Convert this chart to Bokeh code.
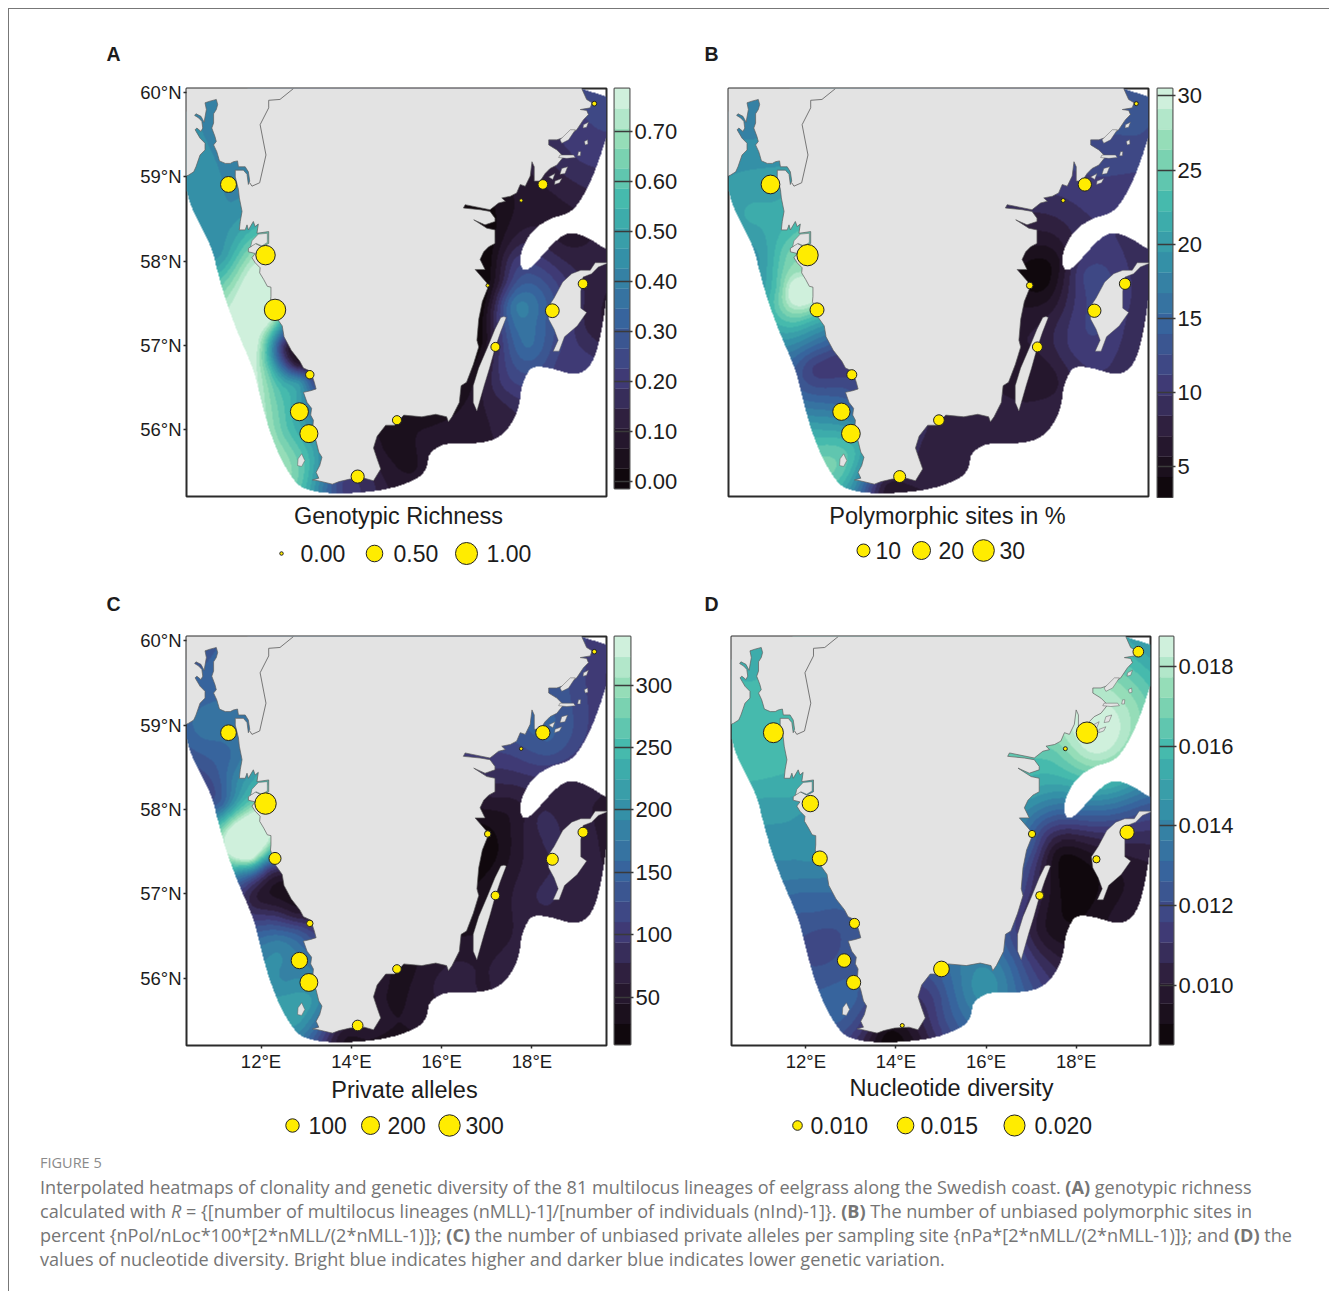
import numpy as np
from bokeh.core.properties import value
from bokeh.embed import file_html
from bokeh.layouts import column, row
from bokeh.models import (Div, FixedTicker, LinearAxis, LinearColorMapper, Range1d)
from bokeh.plotting import figure
from bokeh.resources import INLINE

FONT = "Liberation Sans"
INK = "#2b2b2b"

# ---------- map outlines, degrees ----------
coast_lon = [10.20, 10.34, 10.39, 10.51, 10.56, 10.65, 10.76, 10.76, 10.65, 10.54, 10.58, 10.67, 10.71, 10.69, 10.62, 10.53, 10.56, 10.67, 10.74, 10.79, 10.76, 10.87, 11.01, 11.04, 11.01, 10.95, 10.95, 10.91, 10.98, 11.01, 10.95, 11.02, 11.08, 11.21, 11.32, 11.39, 11.48, 11.50, 11.65, 11.72, 11.75, 11.72, 11.69, 11.61, 11.43, 11.43, 11.50, 11.52, 11.58, 11.54, 11.52, 11.65, 11.69, 11.72, 11.83, 11.87, 11.94, 11.91, 12.17, 12.17, 12.02, 11.87, 11.72, 11.72, 11.87, 11.80, 11.87, 11.98, 11.97, 12.06, 12.14, 12.22, 12.22,
             12.21, 12.31, 12.47, 12.51, 12.67, 12.86, 12.94, 13.10, 13.18, 13.22, 13.10, 12.94, 13.02, 13.12, 13.10, 13.16, 13.14, 13.22, 13.28, 13.35, 13.30, 13.22, 13.28, 13.14, 13.26, 13.58, 13.73, 13.97, 14.29, 14.49, 14.65, 14.57, 14.49, 14.57, 14.76, 14.96, 15.16, 15.56, 15.87, 16.11, 16.15, 16.23, 16.39, 16.43, 16.55, 16.70, 16.82, 16.78, 16.82, 16.90, 17.02,
             17.00, 16.74, 16.96, 16.85, 16.93, 17.04, 17.18, 17.18, 17.00, 16.71, 16.96, 17.18, 17.18, 17.07, 16.85, 16.48, 16.52, 17.07, 17.26, 17.41, 17.33, 17.52, 17.66, 17.74, 17.85, 17.96, 18.00, 18.05, 18.05, 18.18, 18.29, 18.40, 18.55, 18.70, 18.55, 18.37, 18.37, 18.55, 18.77, 18.99, 19.14, 19.25, 19.21, 19.07, 19.29, 19.33, 19.21, 19.10, 19.05, 10.20]
coast_lat = [59.01, 59.01, 59.02, 59.06, 59.12, 59.26, 59.32, 59.40, 59.46, 59.56, 59.58, 59.54, 59.58, 59.66, 59.70, 59.73, 59.75, 59.72, 59.65, 59.80, 59.88, 59.90, 59.92, 59.86, 59.80, 59.75, 59.64, 59.58, 59.48, 59.42, 59.38, 59.30, 59.19, 59.16, 59.16, 59.18, 59.19, 59.12, 59.12, 59.06, 58.95, 58.91, 59.03, 59.08, 59.08, 59.00, 58.85, 58.75, 58.59, 58.47, 58.37, 58.37, 58.43, 58.37, 58.47, 58.41, 58.44, 58.33, 58.35, 58.21, 58.17, 58.21, 58.15, 58.11, 58.09, 58.04, 57.98, 57.92, 57.86, 57.78, 57.70, 57.69, 57.58,
             57.52, 57.35, 57.23, 57.10, 56.94, 56.81, 56.73, 56.69, 56.56, 56.48, 56.46, 56.44, 56.32, 56.25, 56.17, 56.11, 55.98, 55.86, 55.73, 55.67, 55.57, 55.49, 55.42, 55.40, 55.39, 55.35, 55.38, 55.41, 55.42, 55.39, 55.53, 55.65, 55.78, 55.92, 56.05, 56.05, 56.17, 56.15, 56.18, 56.15, 56.09, 56.15, 56.32, 56.52, 56.56, 56.77, 56.98, 57.06, 57.31, 57.52, 57.68,
             57.74, 57.90, 57.90, 58.02, 58.11, 58.17, 58.21, 58.37, 58.39, 58.49, 58.43, 58.47, 58.51, 58.59, 58.61, 58.63, 58.67, 58.61, 58.69, 58.71, 58.75, 58.77, 58.81, 58.91, 58.89, 59.01, 59.18, 59.12, 58.95, 58.95, 59.04, 59.10, 59.14, 59.24, 59.32, 59.38, 59.44, 59.44, 59.48, 59.56, 59.68, 59.74, 59.79, 59.80, 59.82, 59.88, 59.92, 60.05, 60.15, 60.15]

border_lon = [12.72, 12.42, 12.17, 12.17, 11.98, 12.11, 11.97, 11.80, 11.75]
border_lat = [60.05, 59.92, 59.91, 59.82, 59.62, 59.26, 58.93, 58.89, 58.93]

island_lons = [
    [17.38, 17.43, 17.30, 17.18, 17.06, 16.94, 16.78, 16.70, 16.70, 16.82, 17.02, 17.18, 17.31],
    [19.70, 19.40, 19.29, 19.08, 18.88, 18.68, 18.49, 18.34, 18.37, 18.49, 18.58, 18.47, 18.60, 18.72, 19.00, 19.21, 19.08, 19.08, 19.13, 19.32, 19.47],
    [12.90, 12.97, 12.90, 12.81, 12.82],
    [18.62, 18.92, 18.96, 18.77, 18.59], [19.03, 19.08, 19.07, 19.01], [19.16, 19.23, 19.24, 19.18],
    [19.14, 19.25, 19.21, 19.13], [18.66, 18.79, 18.73, 18.62], [18.51, 18.66, 18.61, 18.50],
    [18.37, 18.51, 18.46], [18.85, 18.96, 18.81, 18.66, 18.62],
    [11.77, 11.89, 12.02, 12.14, 12.14, 11.94, 11.80],
]
island_lats = [
    [57.34, 57.33, 57.15, 56.96, 56.73, 56.52, 56.22, 56.32, 56.52, 56.73, 56.98, 57.19, 57.33],
    [57.98, 57.98, 57.89, 57.89, 57.85, 57.75, 57.56, 57.44, 57.31, 57.19, 57.06, 56.93, 56.93, 57.10, 57.23, 57.39, 57.44, 57.64, 57.81, 57.85, 57.93],
    [55.71, 55.63, 55.56, 55.57, 55.65],
    [59.26, 59.26, 59.23, 59.22, 59.23], [59.30, 59.30, 59.25, 59.25], [59.42, 59.44, 59.39, 59.38],
    [59.62, 59.65, 59.59, 59.58], [59.10, 59.12, 59.04, 59.03], [58.95, 58.98, 58.93, 58.91],
    [59.00, 59.04, 58.97], [59.56, 59.56, 59.44, 59.40, 59.44],
    [58.17, 58.21, 58.18, 58.22, 58.33, 58.32, 58.24],
]

sea_lon = [10.20, 10.33, 10.45, 10.73, 10.92, 11.03, 11.20, 11.48, 11.79, 11.91, 12.11, 12.39, 12.78, 13.10, 13.50, 13.97, 14.61, 15.16, 15.60, 15.70, 15.70, 15.91, 16.23, 16.82, 17.30, 17.61, 17.73, 17.77, 17.93, 18.09, 18.41, 18.96, 19.28, 19.47, 19.61, 19.70, 19.70, 19.63, 19.28, 18.92, 18.68, 18.41, 18.01, 17.81, 17.73, 17.77, 18.01, 18.41, 18.80, 19.04, 19.36, 19.63, 19.70, 19.70, 10.20]
sea_lat = [59.01, 58.89, 58.64, 58.35, 58.14, 57.89, 57.56, 57.15, 56.77, 56.56, 56.11, 55.69, 55.34, 55.27, 55.24, 55.24, 55.27, 55.34, 55.46, 55.61, 55.69, 55.80, 55.84, 55.83, 55.90, 56.11, 56.32, 56.52, 56.71, 56.75, 56.73, 56.64, 56.73, 56.98, 57.39, 57.81, 58.14, 58.14, 58.27, 58.34, 58.31, 58.18, 57.93, 57.88, 57.98, 58.14, 58.37, 58.51, 58.56, 58.68, 59.01, 59.43, 59.60, 60.15, 60.15]

# ---------- sampling sites ----------
site_lon = [11.28, 12.10, 12.31, 13.08, 12.85, 13.06, 14.14, 15.01, 17.19, 17.02, 17.76, 18.24, 19.38, 19.13, 18.45]
site_lat = [58.91, 58.07, 57.42, 56.65, 56.21, 55.95, 55.44, 56.11, 56.98, 57.71, 58.72, 58.91, 59.87, 57.73, 57.41]
richness = [0.45, 0.74, 0.94, 0.07, 0.62, 0.62, 0.27, 0.09, 0.09, 0.00, 0.00, 0.11, 0.005, 0.11, 0.31]
polymorphic = [21.7, 28.9, 11.6, 6.1, 18.3, 21.7, 8.5, 6.9, 6.1, 3.6, 3.0, 10.5, 3.0, 7.6, 10.5]
private_alleles = [145, 299, 77, 20, 161, 197, 58, 35, 35, 20, 12, 116, 13, 50, 77]
nucleotide = [0.0186, 0.0147, 0.0134, 0.0102, 0.0123, 0.0128, 0.0088, 0.0140, 0.0094, 0.0092, 0.0088, 0.0204, 0.0105, 0.0128, 0.0092]

# ---------- heat-map readings: value of each panel read at these sea locations ----------
field_lon = [10.88, 10.73, 11.36, 10.81, 11.44, 11.12, 11.76, 11.44, 11.91, 11.60, 12.15, 11.91, 12.47, 12.78, 12.23, 12.86, 12.39, 13.10, 12.55, 13.18, 12.86,
             13.34, 13.81, 14.29, 14.92, 14.76, 15.40, 15.95, 16.43, 16.82, 17.38,
             16.98, 17.38, 16.90, 17.93, 16.98, 17.61, 17.14, 17.61, 17.53, 18.41, 19.04, 19.44, 19.36,
             18.72, 19.44, 18.17, 19.36, 18.72, 19.04, 18.17, 11.75, 12.00, 17.30]
field_lat = [59.47, 58.93, 58.64, 58.51, 58.31, 58.06, 58.06, 57.68, 57.64, 57.31, 57.31, 56.98, 56.98, 56.77, 56.73, 56.56, 56.40, 56.40, 55.98, 55.73, 55.49,
             55.32, 55.32, 55.34, 55.44, 55.78, 56.02, 55.90, 56.11, 55.98, 56.23,
             56.56, 56.56, 57.06, 56.98, 57.56, 57.48, 58.22, 57.98, 58.64, 58.76, 59.14, 59.47, 59.97,
             58.22, 58.02, 57.85, 57.27, 56.77, 56.73, 57.27, 57.45, 57.90, 57.75]
field_a = [0.42, 0.45, 0.43, 0.45, 0.50, 0.47, 0.68, 0.72, 0.85, 0.80, 0.80, 0.76, 0.20, 0.12, 0.55, 0.45, 0.60, 0.35, 0.60, 0.50, 0.62,
           0.40, 0.22, 0.18, 0.08, 0.06, 0.06, 0.08, 0.08, 0.10, 0.13,
           0.12, 0.20, 0.02, 0.35, 0.02, 0.38, 0.02, 0.20, 0.06, 0.10, 0.18, 0.22, 0.24,
           0.10, 0.12, 0.25, 0.12, 0.20, 0.22, 0.33, 0.85, 0.80, 0.12]
field_b = [18, 20, 21, 21, 22, 20, 26, 24, 33, 24, 23, 17, 14, 10, 11, 12, 14, 13, 21, 22, 24,
           15, 7, 7, 8, 8, 8, 8, 8, 8, 8,
           6, 6, 7, 10, 5, 7, 6, 5, 9, 10.5, 11.5, 12.5, 13,
           10, 9, 11, 9, 10, 9, 11, 28, 27, 3.5]
field_c = [150, 165, 160, 135, 190, 150, 270, 380, 380, 230, 120, 60, 40, 60, 100, 130, 185, 140, 190, 205, 210,
           120, 50, 50, 45, 45, 45, 65, 65, 60, 65,
           45, 55, 35, 75, 15, 50, 70, 50, 110, 140, 120, 100, 105,
           70, 60, 80, 65, 75, 75, 75, 360, 360, 35]
field_d = [0.0157, 0.0160, 0.0160, 0.0160, 0.0155, 0.0150, 0.0150, 0.0145, 0.0145, 0.0140, 0.0140, 0.0130, 0.0130, 0.0125, 0.0125, 0.0122, 0.0118, 0.0125, 0.0125, 0.0125, 0.0125,
           0.0105, 0.0088, 0.0095, 0.0115, 0.0115, 0.0135, 0.0145, 0.0135, 0.0125, 0.0105,
           0.0105, 0.0095, 0.0115, 0.0088, 0.0125, 0.0092, 0.0150, 0.0130, 0.0165, 0.0187, 0.0180, 0.0165, 0.0150,
           0.0150, 0.0125, 0.0120, 0.0098, 0.0095, 0.0098, 0.0088, 0.0142, 0.0145, 0.0118]

lat_ticks = [56, 57, 58, 59, 60]
lon_ticks = [12, 14, 16, 18]

mako_stops = ["#0B0405", "#2E1E3B", "#413D7B", "#37659E", "#348FA7", "#40B7AD", "#8BDAB2", "#DEF5E5"]
mako_at = [0, 0.167, 0.286, 0.429, 0.571, 0.714, 0.857, 1]
N_BANDS = 20

def hex_rgb(h):
    return [int(h[i:i + 2], 16) for i in (1, 3, 5)]

stops = np.array([hex_rgb(c) for c in mako_stops], float)
palette = []
for t in (np.arange(N_BANDS) + 0.5) / N_BANDS:
    palette.append("#%02x%02x%02x" % tuple(int(round(np.interp(t, mako_at, stops[:, k]))) for k in range(3)))

LON0, LON1 = 10.35, 19.65
LAT0, LAT1 = 55.203, 60.05
NX, NY = 420, 408
gx = LON0 + (np.arange(NX) + 0.5) / NX * (LON1 - LON0)
gy = LAT0 + (np.arange(NY) + 0.5) / NY * (LAT1 - LAT0)
GX, GY = np.meshgrid(gx, gy)

def chaikin(xs, ys, rounds=2):
    pts = np.column_stack([xs, ys])
    for _ in range(rounds):
        nxt = np.roll(pts, -1, axis=0)
        pts = np.column_stack([0.75 * pts + 0.25 * nxt, 0.25 * pts + 0.75 * nxt]).reshape(-1, 2)
    return pts[:, 0], pts[:, 1]

def inside(px, py, poly_x, poly_y):
    res = np.zeros(px.shape, bool)
    n = len(poly_x)
    for i in range(n):
        x1, y1, x2, y2 = poly_x[i], poly_y[i], poly_x[(i + 1) % n], poly_y[(i + 1) % n]
        if y1 == y2:
            continue
        cond = ((y1 > py) != (y2 > py)) & (px < (x2 - x1) * (py - y1) / (y2 - y1) + x1)
        res ^= cond
    return res

MASK = inside(GX, GY, *chaikin(sea_lon, sea_lat))
KX = 0.56
cx = np.array(field_lon) * KX
cy = np.array(field_lat)

def kernel(r):
    return r ** 2 * np.log(np.maximum(r, 1e-9))

def surface(vals, low, high):
    n = len(cx)
    r = np.hypot(cx[:, None] - cx[None, :], cy[:, None] - cy[None, :])
    P = np.column_stack([np.ones(n), cx, cy])
    A = np.block([[kernel(r) + 0.004 * np.eye(n), P], [P.T, np.zeros((3, 3))]])
    b = np.concatenate([np.array(vals, float), np.zeros(3)])
    w = np.linalg.solve(A, b)
    qx, qy = GX[MASK] * KX, GY[MASK]
    rq = np.hypot(qx[:, None] - cx[None, :], qy[:, None] - cy[None, :])
    z = kernel(rq) @ w[:n] + w[n] + w[n + 1] * qx + w[n + 2] * qy
    out = np.full(GX.shape, np.nan)
    out[MASK] = np.clip(z, low, high - 1e-9)
    return out

def map_fig(field, sites, size_of, low, high, left, right, top, bottom, fw, fh, show_lat, show_lon):
    p = figure(frame_width=fw, frame_height=fh, x_range=Range1d(LON0, LON1), y_range=Range1d(LAT0, LAT1),
               output_backend="svg", toolbar_location=None, tools="", x_axis_location=None, y_axis_location=None,
               min_border_left=left, min_border_right=right, min_border_top=top, min_border_bottom=bottom,
               background_fill_color="white", outline_line_color=INK, outline_line_width=2)
    p.grid.visible = False
    mapper = LinearColorMapper(palette=palette, low=low, high=high, nan_color=(0, 0, 0, 0))
    p.image(image=[surface(field, low, high)], x=LON0, y=LAT0, dw=LON1 - LON0, dh=LAT1 - LAT0, color_mapper=mapper)
    p.patch(coast_lon, coast_lat, fill_color="#E3E3E3", line_color="#5f5f5f", line_width=0.7)
    p.patches(island_lons, island_lats, fill_color="#E3E3E3", line_color="#5f5f5f", line_width=0.5)
    p.line(border_lon, border_lat, line_color="#6a6a6a", line_width=0.9)
    p.scatter(site_lon, site_lat, size=[size_of(v) for v in sites], fill_color="#FFEC00", line_color="#222222", line_width=1)
    if show_lat:
        ax = LinearAxis(ticker=FixedTicker(ticks=lat_ticks), major_label_overrides={t: f"{t}°N" for t in lat_ticks})
        style_axis(ax, 18.5)
        p.add_layout(ax, "left")
    if show_lon:
        ax = LinearAxis(ticker=FixedTicker(ticks=lon_ticks), major_label_overrides={t: f"{t}°E" for t in lon_ticks})
        style_axis(ax, 18.5)
        p.add_layout(ax, "below")
    return p

def style_axis(ax, fs):
    ax.axis_line_color = None
    ax.major_tick_line_color = INK
    ax.major_tick_line_width = 1.5
    ax.major_tick_out = 3
    ax.major_tick_in = 0
    ax.minor_tick_line_color = None
    ax.major_label_standoff = 2
    ax.major_label_text_font = FONT
    ax.major_label_text_font_size = f"{fs}px"
    ax.major_label_text_color = "#1c1c1c"

def bar_fig(low, high, ticks, labels, left, right, top, bottom, fw, fh):
    p = figure(frame_width=fw, frame_height=fh, x_range=Range1d(0, 1), y_range=Range1d(low, high),
               output_backend="svg", toolbar_location=None, tools="", x_axis_location=None, y_axis_location=None,
               min_border_left=left, min_border_right=right, min_border_top=top, min_border_bottom=bottom,
               outline_line_color="#555555", outline_line_width=2)
    p.grid.visible = False
    edges = np.linspace(low, high, N_BANDS + 1)
    p.quad(left=0, right=1, bottom=edges[:-1], top=edges[1:], fill_color=palette, line_color=palette, line_width=0.3)
    ax = LinearAxis(ticker=FixedTicker(ticks=ticks), major_label_overrides=dict(zip(ticks, labels)))
    style_axis(ax, 22)
    ax.major_tick_in = fw
    ax.major_tick_line_color = "#3a3a3a"
    p.add_layout(ax, "right")
    return p

def size_scale(vmin, vmax, dmin, dmax):
    return lambda v: dmin + (dmax - dmin) * np.sqrt(max(v - vmin, 0) / (vmax - vmin))

size_a = size_scale(0, 1, 3.5, 22)
size_b = size_scale(3, 31, 4, 22)
size_c = size_scale(12, 335, 3.5, 22.5)
size_d = size_scale(0.0088, 0.0205, 4, 21.5)

ticks_a = [0.0, 0.1, 0.2, 0.3, 0.4, 0.5, 0.6, 0.7]
ticks_b = [5, 10, 15, 20, 25, 30]
ticks_c = [50, 100, 150, 200, 250, 300]
ticks_d = [0.010, 0.012, 0.014, 0.016, 0.018]

range_a = (-0.014, 0.786)
range_b = (2.9, 30.5)
range_c = (12, 339)
range_d = (0.00852, 0.01875)

map_a = map_fig(field_a, richness, size_a, *range_a, 178, 3, 9, 3, 420, 408, True, False)
bar_a = bar_fig(*range_a, ticks_a, [f"{t:.2f}" for t in ticks_a], 5, 51, 10, 10, 15, 400)
map_b = map_fig(field_b, polymorphic, size_b, *range_b, 48, 4, 9, 3, 420, 408, False, False)
bar_b = bar_fig(*range_b, ticks_b, [str(t) for t in ticks_b], 5, 149, 8, 3, 15, 409)
map_c = map_fig(field_c, private_alleles, size_c, *range_c, 178, 3, 10, 29, 420, 409, True, True)
bar_c = bar_fig(*range_c, ticks_c, [str(t) for t in ticks_c], 5, 51, 10, 30, 16, 408)
map_d = map_fig(field_d, nucleotide, size_d, *range_d, 50, 3, 10, 29, 419, 409, False, True)
bar_d = bar_fig(*range_d, ticks_d, [f"{t:.3f}" for t in ticks_d], 6, 149, 10, 30, 14, 408)

def strip(top, bottom):
    p = figure(width=1313, height=bottom - top, x_range=Range1d(8, 1321), y_range=Range1d(bottom, top),
               output_backend="svg", toolbar_location=None, tools="", x_axis_location=None, y_axis_location=None,
               min_border=0, outline_line_color=None)
    p.grid.visible = False
    return p

def words(p, xs, ys, texts, size, align="left", style="normal"):
    p.text(xs, ys, text=texts, text_font=value(FONT), text_font_size=f"{size}px", text_align=align,
           text_baseline="middle", text_color="#1c1c1c", text_font_style=style)

def legend(p, xs, tx, y, vals, labels, size_of):
    p.scatter(xs, [y] * len(xs), size=[size_of(v) for v in vals], fill_color="#FFEC00", line_color="#222222", line_width=1)
    words(p, tx, [y] * len(tx), labels, 23)

legend_a = [0, 0.5, 1]
legend_b = [10, 20, 30]
legend_c = [100, 200, 300]
legend_d = [0.010, 0.015, 0.020]

top = strip(8, 78)
words(top, [113, 711], [53, 53], ["A", "B"], 19.5, "center", "bold")

mid = strip(498, 626)
words(mid, [398, 947], [515, 515], ["Genotypic Richness", "Polymorphic sites in %"], 23.5, "center")
legend(mid, [281, 374, 466], [300, 393, 486], 553, legend_a, ["0.00", "0.50", "1.00"], size_a)
legend(mid, [863, 921, 983], [875, 938, 999], 550, legend_b, ["10", "20", "30"], size_b)
words(mid, [113, 711], [603, 603], ["C", "D"], 19.5, "center", "bold")

low = strip(1074, 1146)
words(low, [404, 951], [1089, 1087], ["Private alleles", "Nucleotide diversity"], 23.5, "center")
legend(low, [292, 370, 449], [308, 387, 465], 1125, legend_c, ["100", "200", "300"], size_c)
legend(low, [797, 905, 1014], [810, 920, 1034], 1125, legend_d, ["0.010", "0.015", "0.020"], size_d)

caption = Div(width=1313, height=137, margin=0, text="""
<div style="position:fixed;left:8px;top:8px;width:1321px;height:1283px;border-left:1px solid #777;border-top:1px solid #777;pointer-events:none;box-sizing:border-box"></div>
<div style="margin-left:32px;font-family:'Open Sans';color:#757575;white-space:nowrap;font-size:18.1px;line-height:24px">
<div style="font-size:14.5px;line-height:20px;margin-top:7px;margin-bottom:2px;color:#8a8a8a">FIGURE 5</div>
Interpolated heatmaps of clonality and genetic diversity of the 81 multilocus lineages of eelgrass along the Swedish coast. <b>(A)</b> genotypic richness<br>
calculated with <i>R</i> = {[number of multilocus lineages (nMLL)-1]/[number of individuals (nInd)-1]}. <b>(B)</b> The number of unbiased polymorphic sites in<br>
percent {nPol/nLoc*100*[2*nMLL/(2*nMLL-1)]}; <b>(C)</b> the number of unbiased private alleles per sampling site {nPa*[2*nMLL/(2*nMLL-1)]}; and <b>(D)</b> the<br>
values of nucleotide diversity. Bright blue indicates higher and darker blue indicates lower genetic variation.
</div>""")

page = column(top, row(map_a, bar_a, map_b, bar_b), mid, row(map_c, bar_c, map_d, bar_d), low, caption, spacing=0, margin=(8, 0, 0, 8))
open("out.html", "w").write(file_html(page, INLINE))
